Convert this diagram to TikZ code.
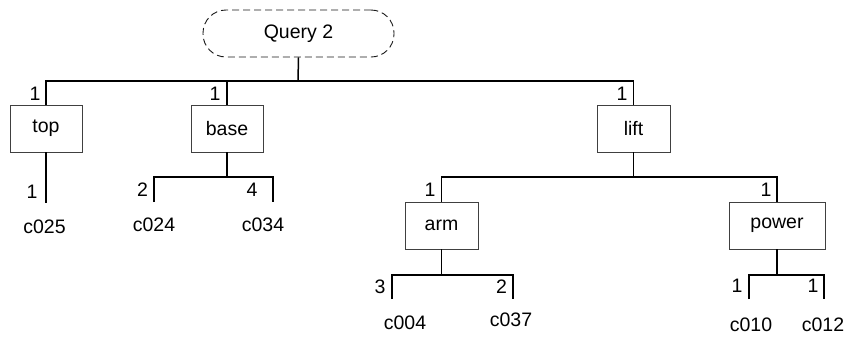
\documentclass[tikz,border=0pt]{standalone}
\usepackage{fontspec}
\setmainfont{Liberation Sans}
\begin{document}
\begin{tikzpicture}[x=1bp,y=-1bp,
  every node/.style={font=\fontsize{19.5bp}{23bp}\selectfont},
  box/.style={draw=black!75, line width=0.9bp, minimum width=#1, minimum height=47bp, inner sep=0pt},
  qbox/.style={draw=black!90, line width=0.9bp, dash pattern=on 7bp off 4bp, rounded corners=23bp,
    minimum width=191bp, minimum height=47bp, inner sep=0pt},
  conn/.style={draw=black, line width=1.5bp},
  lbl/.style={inner sep=0pt}
]
\useasboundingbox (0,0) rectangle (850,337);

% nodes
\node[qbox] (q) at (298.5,33.5) {Query 2};
\node[box=72bp] (top) at (46,128.5) {top};
\node[box=72bp] (base) at (227,128.5) {base};
\node[box=73bp] (lift) at (633.5,128.5) {lift};
\node[box=73bp] (arm) at (441.5,225.5) {arm};
\node[box=96bp] (power) at (777,225.5) {power};

% junction / end coordinates
\coordinate (j0) at (298,81);
\coordinate (jb) at (227,177);
\coordinate (jl) at (633.5,177);
\coordinate (ja) at (441.5,275);
\coordinate (jp) at (777,275);
\coordinate (t1) at (46,203);
\coordinate (b1) at (154,202);
\coordinate (b2) at (273,202);
\coordinate (a1) at (392,299);
\coordinate (a2) at (513,299);
\coordinate (p1) at (749,299);
\coordinate (p2) at (824,299);

% connectors
\draw[conn] (q.south) -- (j0);
\draw[conn] (top.north) -- (top.north |- j0) -- (lift.north |- j0) -- (lift.north);
\draw[conn] (base.north) -- (base.north |- j0);
\draw[conn] (top.south) -- (t1);
\draw[conn] (base.south) -- (jb);
\draw[conn] (b1) -- (b1 |- jb) -- (b2 |- jb) -- (b2);
\draw[conn] (lift.south) -- (jl);
\draw[conn] (arm.north) -- (arm.north |- jl) -- (power.north |- jl) -- (power.north);
\draw[conn] (arm.south) -- (ja);
\draw[conn] (a1) -- (a1 |- ja) -- (a2 |- ja) -- (a2);
\draw[conn] (power.south) -- (jp);
\draw[conn] (p1) -- (p1 |- jp) -- (p2 |- jp) -- (p2);

% count labels
\node[lbl] (n1) at (35,94) {1};
\node[lbl] (n2) at (215,94) {1};
\node[lbl] (n3) at (622,94) {1};
\node[lbl] (n4) at (32,192) {1};
\node[lbl] (n5) at (142.5,190) {2};
\node[lbl] (n6) at (252,190) {4};
\node[lbl] (n7) at (430,190) {1};
\node[lbl] (n8) at (766,190) {1};
\node[lbl] (n9) at (380,287) {3};
\node[lbl] (n10) at (501.5,287) {2};
\node[lbl] (n11) at (737,286) {1};
\node[lbl] (n12) at (813,286) {1};

% leaf labels
\node[lbl] (c025) at (44.5,227) {c025};
\node[lbl] (c024) at (154,225) {c024};
\node[lbl] (c034) at (263,225) {c034};
\node[lbl] (c004) at (405,323) {c004};
\node[lbl] (c037) at (511,320) {c037};
\node[lbl] (c010) at (751,325) {c010};
\node[lbl] (c012) at (823,325) {c012};
\end{tikzpicture}
\end{document}
